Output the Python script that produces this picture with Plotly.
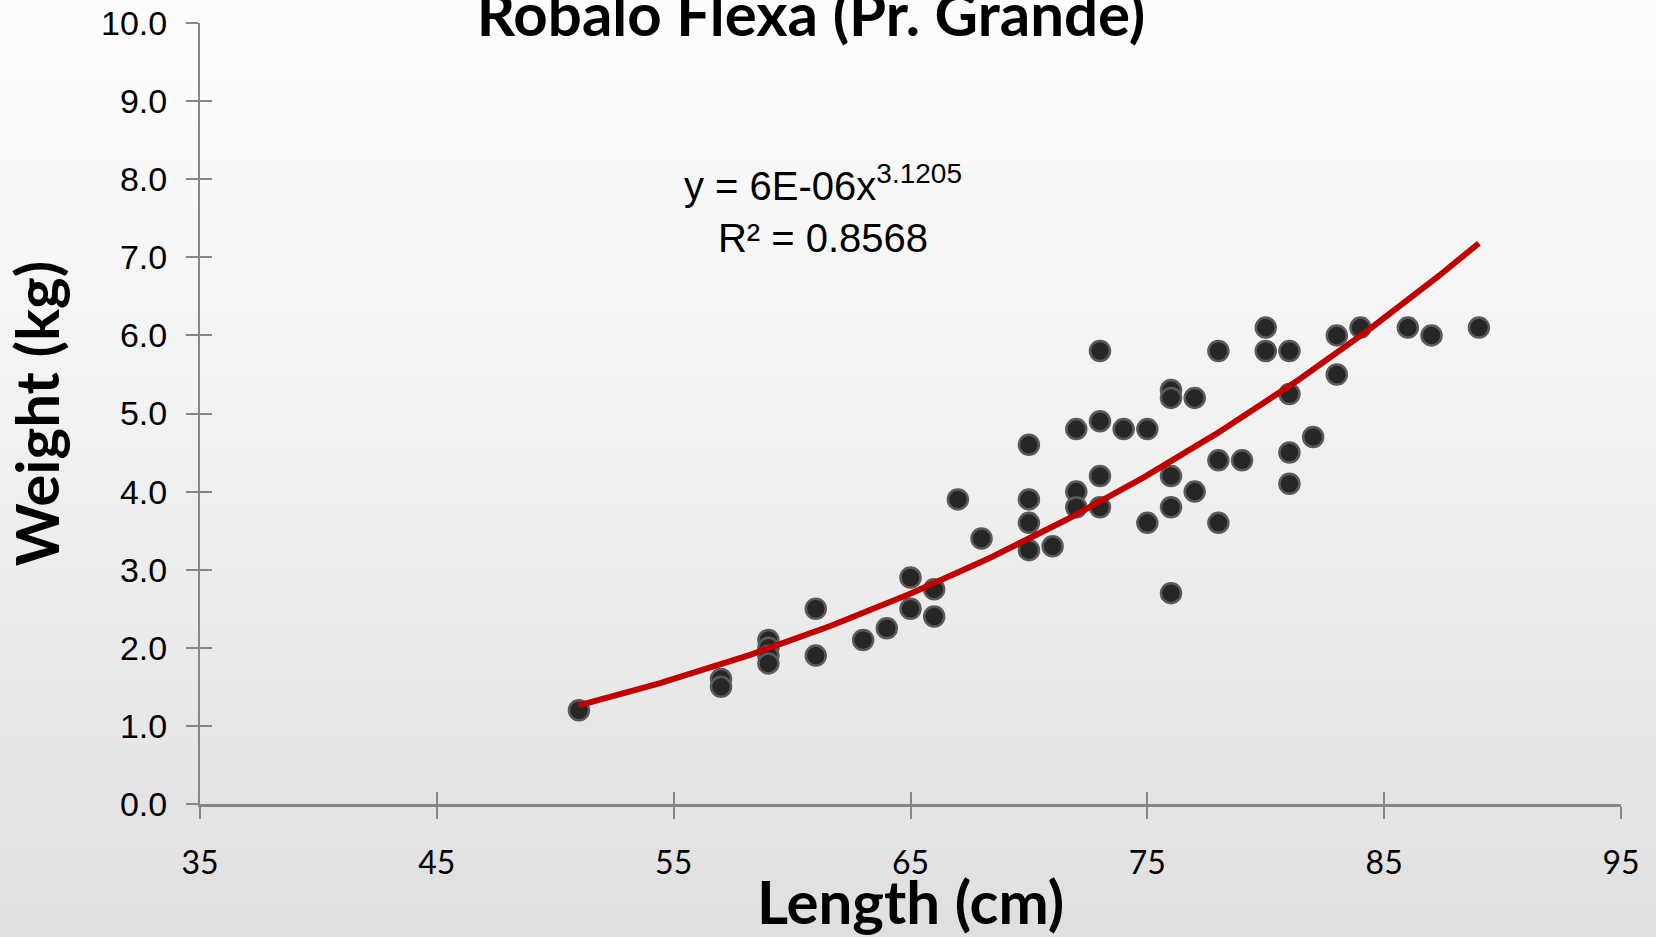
import numpy as np
import plotly.graph_objects as go

# ---- data ----
length_cm = [51, 57, 57, 59, 59, 59, 59, 61, 61, 63, 64, 65, 65, 66, 66, 67, 68,
             70, 70, 70, 70, 71, 72, 72, 72, 73, 73, 73, 73, 74, 75, 75,
             76, 76, 76, 76, 76, 77, 77, 78, 78, 78, 79, 80, 80,
             81, 81, 81, 81, 82, 83, 83, 84, 86, 87, 89]
weight_kg = [1.2, 1.6, 1.5, 2.1, 2.0, 1.9, 1.8, 2.5, 1.9, 2.1, 2.25, 2.9, 2.5, 2.75, 2.4, 3.9, 3.4,
             4.6, 3.9, 3.6, 3.25, 3.3, 4.8, 4.0, 3.8, 5.8, 4.9, 4.2, 3.8, 4.8, 4.8, 3.6,
             5.3, 5.2, 4.2, 3.8, 2.7, 5.2, 4.0, 5.8, 4.4, 3.6, 4.4, 6.1, 5.8,
             5.8, 5.25, 4.5, 4.1, 4.7, 6.0, 5.5, 6.1, 6.1, 6.0, 6.1]

# power trendline y = a * x^b (as shown on the chart)
TREND_A = 5.93e-6
TREND_B = 3.1205
TREND_X_MIN = 51
TREND_X_MAX = 89

x_ticks = [35, 45, 55, 65, 75, 85, 95]
y_ticks = [0, 1, 2, 3, 4, 5, 6, 7, 8, 9, 10]

TITLE = "Robalo Flexa (Pr. Grande)"
X_TITLE = "Length (cm)"
Y_TITLE = "Weight (kg)"
EQ_TEXT = "y = 6E-06x<sup>3.1205</sup><br>R² = 0.8568"

CAL = "Lato, Carlito, Calibri, sans-serif"
ARIAL = "Liberation Sans, Arial, sans-serif"

tx = np.linspace(TREND_X_MIN, TREND_X_MAX, 200)
ty = TREND_A * tx ** TREND_B

fig = go.Figure()
fig.add_trace(go.Scatter(
    x=length_cm, y=weight_kg, mode="markers",
    marker=dict(size=20, color="#262626", line=dict(color="#5a5a5a", width=2.5)),
    showlegend=False, hoverinfo="skip"))
fig.add_trace(go.Scatter(
    x=tx, y=ty, mode="lines", line=dict(color="#C00000", width=6),
    showlegend=False, hoverinfo="skip"))

W, H = 1656, 937
ML, MR, MT, MB = 200, 35, 23, 133
pw, ph = W - ML - MR, H - MT - MB

# background vertical gradient (light to grey) drawn as thin bands in paper coords
x0p, x1p = -ML / pw - 0.01, 1 + MR / pw + 0.01
ytop, ybot = 1 + MT / ph + 0.01, -MB / ph - 0.01
nb = 94
shapes = []
for i in range(nb):
    t0 = i / nb
    t1 = (i + 1) / nb
    tm = (t0 + t1) / 2
    v = int(round(252 - (252 - 223) * tm ** 1.25))
    col = f"rgb({v},{v},{v})"
    shapes.append(dict(type="rect", xref="paper", yref="paper", layer="below",
                       x0=x0p, x1=x1p,
                       y0=ytop - (ytop - ybot) * t1 - 0.001,
                       y1=ytop - (ytop - ybot) * t0,
                       fillcolor=col, line=dict(width=0)))

axis_col = "#868686"
fig.update_layout(
    width=W, height=H,
    margin=dict(l=ML, r=MR, t=MT, b=MB, autoexpand=False),
    paper_bgcolor="#f0f0f0", plot_bgcolor="rgba(0,0,0,0)",
    shapes=shapes,
    title=dict(text=f"<b>{TITLE}</b>", x=811 / W, xanchor="center",
               y=1 - 15 / H, yanchor="middle", yref="container", automargin=False,
               font=dict(family=CAL, size=60, color="#000000")),
    xaxis=dict(range=[35, 95], tickmode="array", tickvals=x_ticks,
               ticktext=[str(v) for v in x_ticks], automargin=False,
               showgrid=False, zeroline=False, showline=True,
               linecolor=axis_col, linewidth=2.5,
               ticks="outside", ticklen=12, tickwidth=2, tickcolor=axis_col,
               ticklabelstandoff=17,
               tickfont=dict(family=CAL, size=32, color="#000000"),
               title=dict(text=f"<b>{X_TITLE}</b>", standoff=0,
                          font=dict(family=CAL, size=60, color="#000000"))),
    yaxis=dict(range=[0, 10], tickmode="array", tickvals=y_ticks,
               ticktext=[f"{v:.1f}" for v in y_ticks], automargin=False,
               showgrid=False, zeroline=False, showline=True,
               linecolor=axis_col, linewidth=2,
               ticks="outside", ticklen=12, tickwidth=2, tickcolor=axis_col,
               ticklabelstandoff=12,
               tickfont=dict(family=ARIAL, size=34, color="#000000"),
               title=dict(text=f"<b>{Y_TITLE}</b>", standoff=24,
                          font=dict(family=CAL, size=60, color="#000000"))),
    xaxis2=dict(range=[35, 95], overlaying="x", anchor="y", side="bottom",
                tickmode="array", tickvals=x_ticks, showticklabels=False,
                showgrid=False, zeroline=False, showline=False, automargin=False,
                ticks="inside", ticklen=12, tickwidth=2, tickcolor=axis_col),
    yaxis2=dict(range=[0, 10], overlaying="y", anchor="x", side="left",
                tickmode="array", tickvals=y_ticks, showticklabels=False,
                showgrid=False, zeroline=False, showline=False, automargin=False,
                ticks="inside", ticklen=12, tickwidth=2, tickcolor=axis_col),
    annotations=[dict(text=EQ_TEXT, x=61.3, y=7.62, xref="x", yref="y",
                      showarrow=False, align="center",
                      font=dict(family=ARIAL, size=40, color="#000000"))],
)
# a hidden trace so the overlay axes are rendered
fig.add_trace(go.Scatter(x=[None], y=[None], xaxis="x2", yaxis="y2",
                         showlegend=False, hoverinfo="skip"))

fig.write_html(
    "out.html",
    config={"displayModeBar": False},
    post_script="document.body.style.margin='0';document.body.style.overflow='hidden';"
                "document.documentElement.style.overflow='hidden';",
)
